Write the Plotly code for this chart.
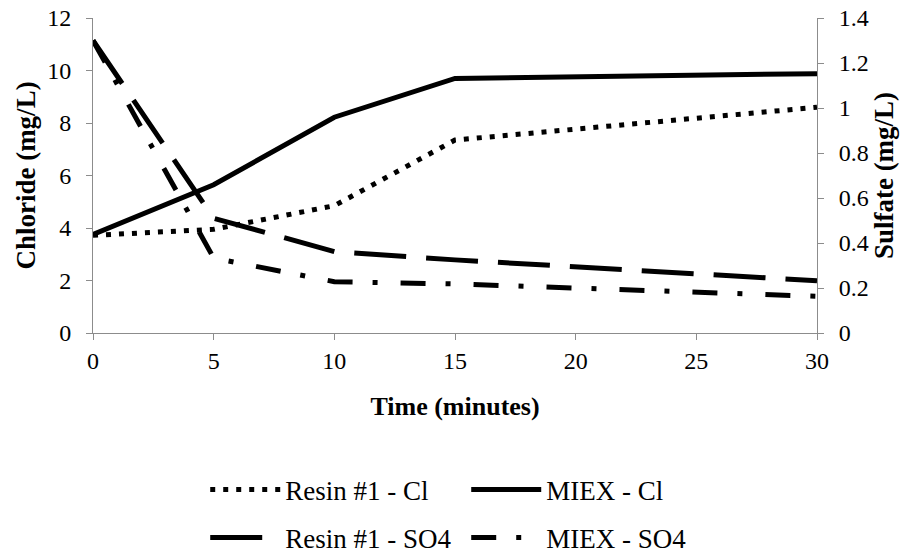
import plotly.graph_objects as go

time = [0, 5, 10, 15, 30]
resin_cl = [3.72, 3.95, 4.85, 7.35, 8.6]
miex_cl = [3.75, 5.65, 8.22, 9.7, 9.88]
resin_so4 = [1.3, 0.51, 0.362, 0.325, 0.232]
miex_so4 = [1.3, 0.333, 0.228, 0.218, 0.163]

FONT = "Liberation Serif"
AXC = "#8c8c8c"

fig = go.Figure()
fig.add_trace(go.Scatter(x=time, y=resin_cl, mode="lines", name="Resin #1 - Cl",
                         line=dict(color="black", width=5, dash="5px,8px"), legend="legend"))
fig.add_trace(go.Scatter(x=time, y=miex_cl, mode="lines", name="MIEX - Cl",
                         line=dict(color="black", width=5), legend="legend"))
fig.add_trace(go.Scatter(x=time, y=resin_so4, mode="lines", name="Resin #1 - SO4", yaxis="y2",
                         line=dict(color="black", width=5, dash="52px,20px"), legend="legend2"))
fig.add_trace(go.Scatter(x=time, y=miex_so4, mode="lines", name="MIEX - SO4", yaxis="y2",
                         line=dict(color="black", width=5, dash="25px,20px,5px,23px"), legend="legend2"))

axis_common = dict(showgrid=False, zeroline=False, showline=True, linecolor=AXC, linewidth=1,
                   ticks="outside", tickcolor=AXC, ticklen=6, tickwidth=1,
                   tickfont=dict(family=FONT, size=24, color="black"))

fig.update_layout(
    width=913, height=554,
    margin=dict(l=93, r=96, t=18, b=221, autoexpand=False),
    paper_bgcolor="white", plot_bgcolor="white",
    font=dict(family=FONT, color="black"),
    showlegend=True,
    xaxis=dict(range=[0, 30], tickvals=[0, 5, 10, 15, 20, 25, 30],
               title=dict(text="<b>Time (minutes)</b>", font=dict(family=FONT, size=26), standoff=24),
               **axis_common),
    yaxis=dict(range=[0, 12], tickvals=[0, 2, 4, 6, 8, 10, 12], ticklabelstandoff=10,
               title=dict(text="<b>Chloride (mg/L)</b>", font=dict(family=FONT, size=27), standoff=3),
               **axis_common),
    yaxis2=dict(range=[0, 1.4], tickvals=[0, 0.2, 0.4, 0.6, 0.8, 1, 1.2, 1.4],
                ticktext=["0", "0.2", "0.4", "0.6", "0.8", "1", "1.2", "1.4"],
                overlaying="y", side="right", ticklabelstandoff=10,
                title=dict(text="<b>Sulfate (mg/L)</b>", font=dict(family=FONT, size=27), standoff=2),
                **axis_common),
    legend=dict(orientation="h", x=0.155, xanchor="left", y=-0.498, yanchor="middle",
                entrywidth=176, font=dict(family=FONT, size=27), bgcolor="rgba(0,0,0,0)",
                itemwidth=70),
    legend2=dict(orientation="h", x=0.155, xanchor="left", y=-0.651, yanchor="middle",
                 entrywidth=176, font=dict(family=FONT, size=27), bgcolor="rgba(0,0,0,0)",
                 itemwidth=70),
)

fig.write_html("out.html")
